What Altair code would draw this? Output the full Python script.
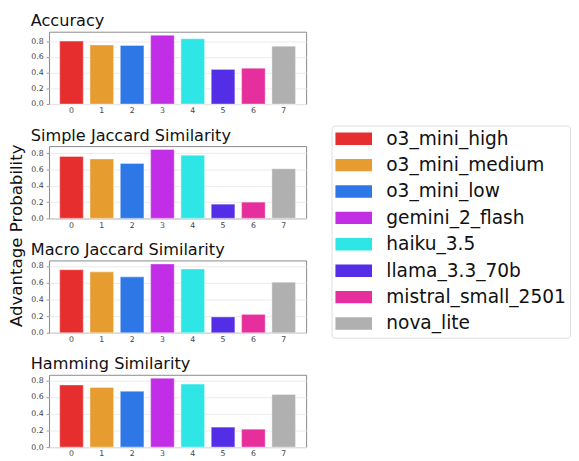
import altair as alt
import pandas as pd

models = ["o3_mini_high", "o3_mini_medium", "o3_mini_low", "gemini_2_flash",
          "haiku_3.5", "llama_3.3_70b", "mistral_small_2501", "nova_lite"]
colors = ["#e62e2e", "#e69c2e", "#2e77e6", "#c12ee6", "#2ee6e6", "#532ee6", "#e62e9c", "#b0b0b0"]
metrics = ["Accuracy", "Simple Jaccard Similarity", "Macro Jaccard Similarity", "Hamming Similarity"]

accuracy = [0.80, 0.75, 0.745, 0.875, 0.83, 0.44, 0.455, 0.735]
simple_jaccard = [0.76, 0.73, 0.675, 0.845, 0.775, 0.175, 0.20, 0.61]
macro_jaccard = [0.755, 0.73, 0.67, 0.825, 0.765, 0.19, 0.22, 0.605]
hamming = [0.745, 0.715, 0.67, 0.825, 0.755, 0.24, 0.215, 0.63]
series = [accuracy, simple_jaccard, macro_jaccard, hamming]
y_ticks = [0.0, 0.2, 0.4, 0.6, 0.8]

rows = []
for metric, vals in zip(metrics, series):
    for i, (m, v) in enumerate(zip(models, vals)):
        rows.append({"metric": metric, "idx": str(i), "model": m, "value": v})
df = pd.DataFrame(rows)

FONT = "DejaVu Sans"


def panel(metric, vals):
    return (
        alt.Chart(df)
        .transform_filter(alt.datum.metric == metric)
        .mark_bar(stroke="white", strokeOpacity=0.35, strokeWidth=1.2)
        .encode(
            x=alt.X("idx:N", title=None, sort=[str(i) for i in range(8)],
                    scale=alt.Scale(paddingInner=0.22, paddingOuter=0.35),
                    axis=alt.Axis(labelAngle=0, bandPosition=0.5, ticks=False, labelPadding=3)),
            y=alt.Y("value:Q", title=None,
                    scale=alt.Scale(domain=[0, max(vals) * 1.05], nice=False),
                    axis=alt.Axis(values=y_ticks, format=".1f", tickSize=3, labelPadding=3)),
            color=alt.Color("model:N", scale=alt.Scale(domain=models, range=colors),
                            legend=alt.Legend(
                                title=None, orient="none", legendX=289, legendY=96,
                                symbolType="M-1,-0.668H2.937V0.668H-1Z", symbolSize=361,
                                symbolStrokeWidth=0, labelOffset=33, labelFontSize=19,
                                labelFont=FONT, labelColor="#111", rowPadding=7,
                                labelLimit=0, padding=4, strokeColor="#dddddd",
                                cornerRadius=3, fillColor="white")),
        )
        .properties(width=263, height=74,
                    title=alt.TitleParams(metric, anchor="start", fontSize=16.5, font=FONT,
                                          fontWeight="normal", color="#111", offset=2))
    )


chart = (
    alt.vconcat(*[panel(m, v) for m, v in zip(metrics, series)], spacing=12)
    .properties(
        padding=0,
        title=alt.TitleParams("Advantage Probability", orient="left", anchor="middle",
                              fontSize=17, font=FONT, fontWeight="normal", color="#111"),
    )
    .configure_view(stroke="#888888", strokeWidth=1)
    .configure_axis(labelFont=FONT, labelFontSize=8, labelColor="#444", domain=False,
                    gridColor="#ebebeb", tickColor="#999")
)

chart.save("out.html", embed_options={"renderer": "svg", "actions": False})
